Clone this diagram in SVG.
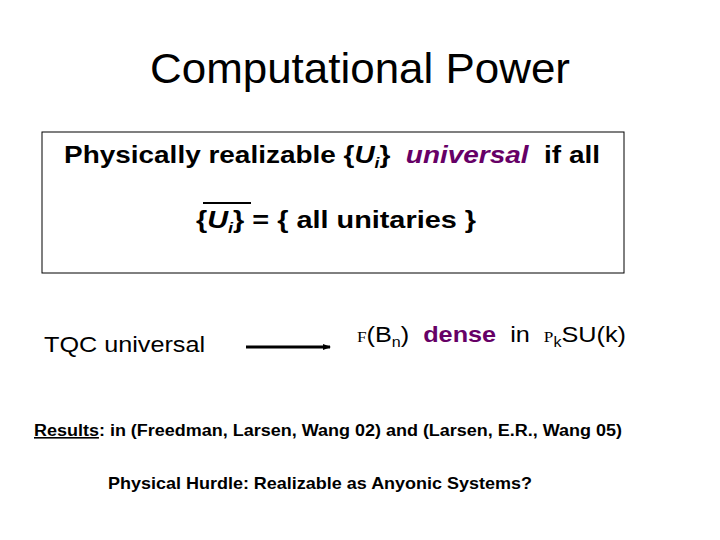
<svg xmlns="http://www.w3.org/2000/svg" width="720" height="540" viewBox="0 0 720 540">
<style>
text{font-family:"Liberation Sans",Arial,sans-serif;fill:#000}
.b{font-weight:bold}
.p{fill:#660066}
.s{font-family:"Liberation Serif",serif;font-size:15px}
</style>
<defs><marker id="ah" markerWidth="8" markerHeight="6" refX="7" refY="3" orient="auto" markerUnits="userSpaceOnUse"><path d="M0,0L8,3L0,6z" fill="#000"/></marker></defs>
<rect width="720" height="540" fill="#fff"/>
<text x="150" y="83" font-size="42" textLength="420" lengthAdjust="spacingAndGlyphs">Computational Power</text>
<g id="box">
<rect x="42" y="132" width="582" height="141" fill="none" stroke="#000" stroke-width="1"/>
<text x="64" y="163" font-size="24" class="b" textLength="536" lengthAdjust="spacingAndGlyphs">Physically realizable {<tspan font-style="italic">U</tspan><tspan font-style="italic" font-size="15" dy="5">i</tspan><tspan dy="-5">}&#160; </tspan><tspan class="p" font-style="italic">universal</tspan>&#160; if all</text>
<line x1="203" y1="203" x2="251" y2="203" stroke="#000" stroke-width="2"/>
<text x="196" y="228" font-size="24" class="b" textLength="280" lengthAdjust="spacingAndGlyphs">{<tspan font-style="italic">U</tspan><tspan font-style="italic" font-size="15" dy="5">i</tspan><tspan dy="-5">} = { all unitaries }</tspan></text>
</g>
<g id="tqc"><text x="44" y="352" font-size="22" textLength="161" lengthAdjust="spacingAndGlyphs">TQC universal</text></g>
<g id="connectors"><line x1="246" y1="347" x2="330" y2="347" stroke="#000" stroke-width="3" marker-end="url(#ah)"/></g>
<g id="dense"><text x="357" y="342" font-size="22" textLength="269" lengthAdjust="spacingAndGlyphs"><tspan class="s">F</tspan>(B<tspan font-size="14" dy="5">n</tspan><tspan dy="-5">)&#160; </tspan><tspan class="p b">dense</tspan>&#160; in&#160; <tspan class="s">P</tspan><tspan font-size="14" dy="5">k</tspan><tspan dy="-5">SU(k)</tspan></text></g>
<text x="34" y="436" font-size="16" class="b" textLength="588" lengthAdjust="spacingAndGlyphs"><tspan text-decoration="underline">Results</tspan>: in (Freedman, Larsen, Wang 02) and (Larsen, E.R., Wang 05)</text>
<text x="108" y="489" font-size="17" class="b" textLength="424" lengthAdjust="spacingAndGlyphs">Physical Hurdle: Realizable as Anyonic Systems?</text>
</svg>
